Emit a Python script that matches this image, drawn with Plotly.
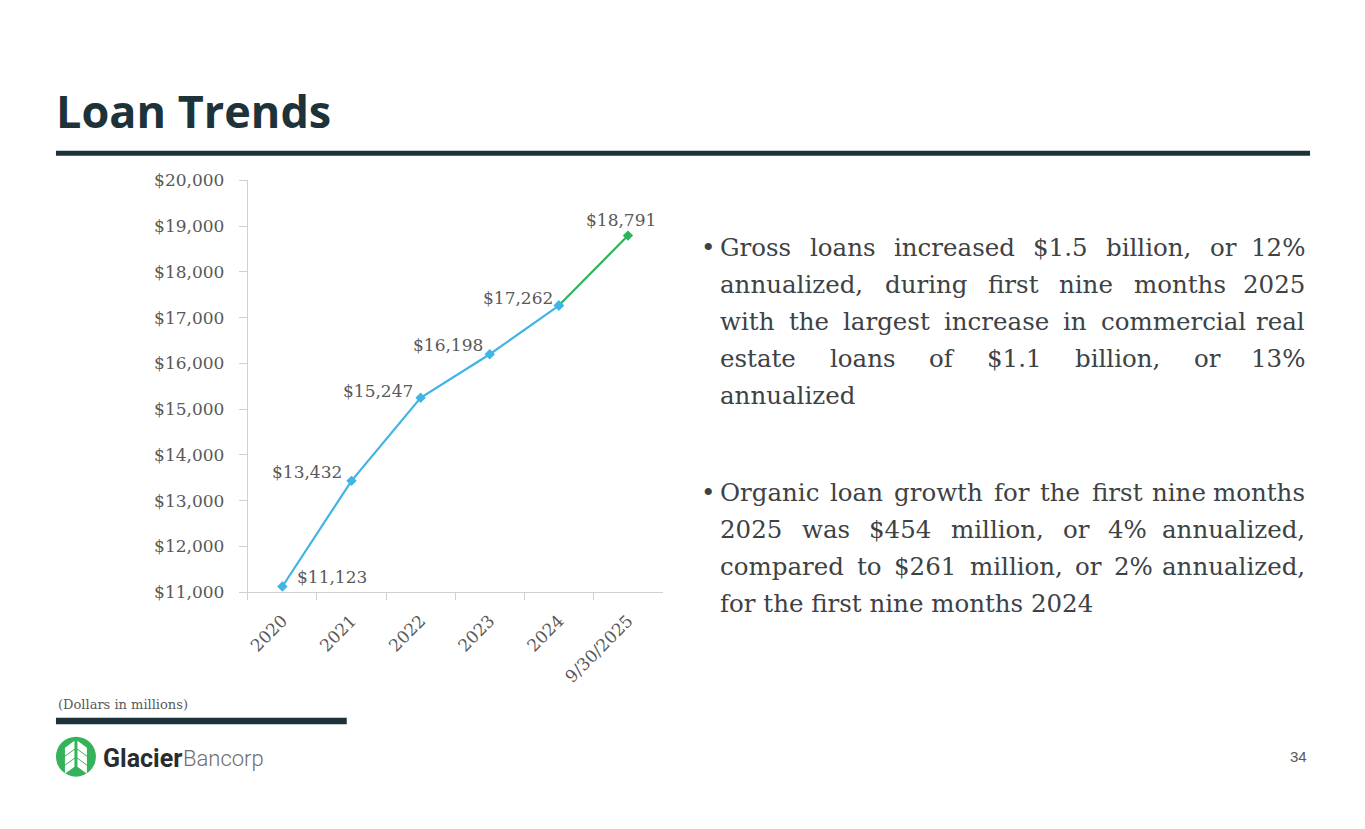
import plotly.graph_objects as go

W, H = 1365, 829

categories = ["2020", "2021", "2022", "2023", "2024", "9/30/2025"]
loans = [11123, 13432, 15247, 16198, 17262, 18791]
label_text = ["$11,123", "$13,432", "$15,247", "$16,198", "$17,262", "$18,791"]
y_ticks = [11000, 12000, 13000, 14000, 15000, 16000, 17000, 18000, 19000, 20000]
y_tick_text = ["$11,000", "$12,000", "$13,000", "$14,000", "$15,000",
               "$16,000", "$17,000", "$18,000", "$19,000", "$20,000"]

bullet1 = ["Gross loans increased $1.5 billion, or 12%",
           "annualized, during first nine months 2025",
           "with the largest increase in commercial real",
           "estate loans of $1.1 billion, or 13%",
           "annualized"]
bullet2 = ["Organic loan growth for the first nine months",
           "2025 was $454 million, or 4% annualized,",
           "compared to $261 million, or 2% annualized,",
           "for the first nine months 2024"]

BLUE = "#41B4E6"
GREEN = "#2DB45A"
DARK = "#1E323A"
GRAY = "#595959"
TXT = "#3D4245"
SERIF = "DejaVu Serif"

# screen-position calibration of the rendered page
X0, Y0, HS = 8.0, 16.3, 811.2


def px(x):
    return (x - X0) / W


def py(y):
    return 1 - (y - Y0) / HS


# approximate DejaVu Serif advance widths (em)
CW = {" ": .318, "a": .596, "b": .640, "c": .560, "d": .640, "e": .592, "f": .370,
      "g": .640, "h": .644, "i": .320, "j": .310, "k": .606, "l": .320, "m": .948,
      "n": .644, "o": .602, "p": .640, "q": .640, "r": .478, "s": .513, "t": .402,
      "u": .644, "v": .565, "w": .856, "x": .564, "y": .565, "z": .527,
      "$": .636, "%": .950, ",": .318, ".": .318, "G": .775, "O": .785}


def tw(s, size):
    w = sum(CW.get(ch, .636 if ch.isdigit() else .72) for ch in s)
    w -= 0.06 * s.count("fi")  # ligature
    return w * size


fig = go.Figure()
fig.add_trace(go.Scatter(
    x=categories[:5], y=loans[:5], mode="lines+markers",
    line=dict(color=BLUE, width=2.2),
    marker=dict(symbol="diamond", size=8, color=BLUE),
    showlegend=False, hoverinfo="skip"))
fig.add_trace(go.Scatter(
    x=categories[4:], y=loans[4:], mode="lines+markers",
    line=dict(color=GREEN, width=2.2),
    marker=dict(symbol="diamond", size=8, color=[BLUE, GREEN]),
    showlegend=False, hoverinfo="skip"))

annotations = []
# data labels (x given as category index)
offsets = [(13, 10, "left"), (-7, 9, "right"), (-6, 7, "right"), (-5, 9, "right"),
           (-4, 8, "right"), (-7, 16, "center")]
for i, (v, t) in enumerate(zip(loans, label_text)):
    dx, dy, anc = offsets[i]
    annotations.append(dict(x=i, y=v, xref="x", yref="y", text=t, showarrow=False,
                            xanchor=anc, yanchor="middle", xshift=dx, yshift=dy,
                            font=dict(family=SERIF, size=17, color=GRAY)))

# title
annotations.append(dict(x=px(53), y=py(109), xref="paper", yref="paper",
                        text="<b>Loan Trends</b>", showarrow=False,
                        xanchor="left", yanchor="middle",
                        font=dict(family="Open Sans", size=45, color=DARK, weight=800)))

# bullets (justified by placing words)
FS = 24.5
LEFT, RIGHT = 718, 1307
LH = 37.2
for block, y0 in ((bullet1, 246), (bullet2, 492)):
    annotations.append(dict(x=px(699), y=py(y0), xref="paper", yref="paper",
                            text="•", showarrow=False, xanchor="left", yanchor="middle",
                            font=dict(family=SERIF, size=FS, color=TXT)))
    for j, line in enumerate(block):
        yy = py(y0 + j * LH)
        last = j == len(block) - 1
        words = line.split(" ")
        if last or len(words) == 1:
            annotations.append(dict(x=px(LEFT), y=yy, xref="paper", yref="paper",
                                    text=line, showarrow=False, xanchor="left",
                                    yanchor="middle",
                                    font=dict(family=SERIF, size=FS, color=TXT)))
            continue
        widths = [tw(w, FS) for w in words]
        gap = (RIGHT - LEFT - sum(widths)) / (len(words) - 1)
        xpos = LEFT
        for k, (w, wd) in enumerate(zip(words, widths)):
            if k == len(words) - 1:
                annotations.append(dict(x=px(RIGHT), y=yy, xref="paper", yref="paper",
                                        text=w, showarrow=False, xanchor="right",
                                        yanchor="middle",
                                        font=dict(family=SERIF, size=FS, color=TXT)))
            else:
                annotations.append(dict(x=px(xpos), y=yy, xref="paper", yref="paper",
                                        text=w, showarrow=False, xanchor="left",
                                        yanchor="middle",
                                        font=dict(family=SERIF, size=FS, color=TXT)))
            xpos += wd + gap

# footnote
annotations.append(dict(x=px(55), y=py(705), xref="paper", yref="paper",
                        text="(Dollars in millions)", showarrow=False,
                        xanchor="left", yanchor="middle",
                        font=dict(family=SERIF, size=13, color=GRAY)))
# page number
annotations.append(dict(x=px(1309), y=py(757), xref="paper", yref="paper",
                        text="34", showarrow=False, xanchor="right", yanchor="middle",
                        font=dict(family="Liberation Sans", size=15, color=GRAY)))
# logo text
annotations.append(dict(x=px(100), y=py(759), xref="paper", yref="paper",
                        text="<b>Glacier</b>", showarrow=False, xanchor="left", yanchor="middle",
                        font=dict(family="Roboto", size=25, color="#2A2D2F")))
annotations.append(dict(x=px(180), y=py(759), xref="paper", yref="paper",
                        text="Bancorp", showarrow=False, xanchor="left", yanchor="middle",
                        font=dict(family="Roboto", size=22, color="#6E6E6E", weight=300)))

shapes = [
    dict(type="rect", xref="paper", yref="paper", x0=px(55), x1=px(1310),
         y0=py(154.5), y1=py(149.5), fillcolor=DARK, line=dict(width=0)),
    dict(type="rect", xref="paper", yref="paper", x0=px(55), x1=px(346),
         y0=py(724.5), y1=py(718), fillcolor=DARK, line=dict(width=0)),
    dict(type="circle", xref="paper", yref="paper", x0=px(55), x1=px(95),
         y0=py(777), y1=py(737), fillcolor="#34B35A", line=dict(width=0)),
]
# tree icon (white chevrons) inside logo circle
cx = 75


def P(pts):
    return "M " + " L ".join(f"{px(x):.5f},{py(y):.5f}" for x, y in pts) + " Z"


for side in (-1, 1):
    for k in range(3):
        top = 741 + k * 9
        pts = [(cx + side * 1.5, top), (cx + side * 1.5, top + 8),
               (cx + side * 11, top + 15), (cx + side * 11, top + 7)]
        shapes.append(dict(type="path", xref="paper", yref="paper", path=P(pts),
                           fillcolor="white", line=dict(width=0)))

fig.update_layout(
    width=W, height=H, margin=dict(l=0, r=0, t=0, b=0),
    paper_bgcolor="white", plot_bgcolor="white",
    xaxis=dict(domain=[px(247), px(662)], type="category", range=[-0.5, 5.5],
               showline=True, linecolor="#D0D0D0", linewidth=1,
               ticks="outside", tickson="boundaries", ticklen=7, tickcolor="#D0D0D0",
               tickangle=-45, showgrid=False, zeroline=False, ticklabelstandoff=11,
               tickfont=dict(family=SERIF, size=17, color=GRAY)),
    yaxis=dict(domain=[py(592), py(179)], range=[11000, 20000],
               tickvals=y_ticks, ticktext=y_tick_text,
               showline=True, linecolor="#D0D0D0", linewidth=1,
               ticks="outside", ticklen=8, tickcolor="#D0D0D0", ticklabelstandoff=11,
               showgrid=False, zeroline=False,
               tickfont=dict(family=SERIF, size=17, color=GRAY)),
    annotations=annotations, shapes=shapes,
)

fig.write_html("out.html")
